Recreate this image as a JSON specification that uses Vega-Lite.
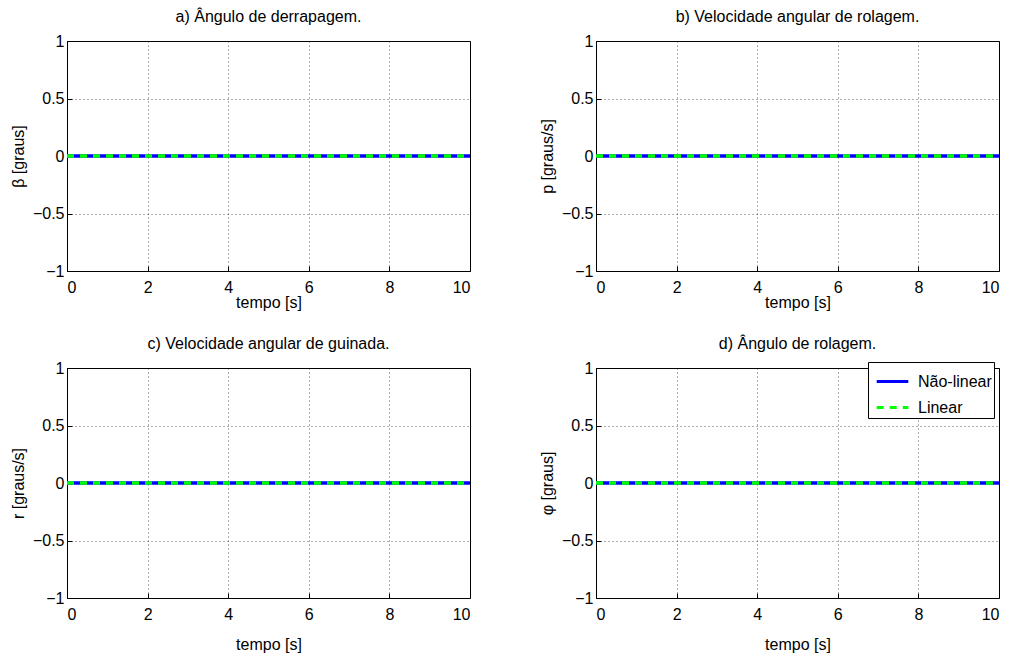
{
  "$schema": "https://vega.github.io/schema/vega-lite/v6.json",
  "background": "white",
  "padding": {"left": 9, "top": 8, "right": 5, "bottom": 5},
  "datasets": {
    "sim": [
      {"series": "Não-linear", "t": 0, "value": 0},
      {"series": "Não-linear", "t": 1, "value": 0},
      {"series": "Não-linear", "t": 2, "value": 0},
      {"series": "Não-linear", "t": 3, "value": 0},
      {"series": "Não-linear", "t": 4, "value": 0},
      {"series": "Não-linear", "t": 5, "value": 0},
      {"series": "Não-linear", "t": 6, "value": 0},
      {"series": "Não-linear", "t": 7, "value": 0},
      {"series": "Não-linear", "t": 8, "value": 0},
      {"series": "Não-linear", "t": 9, "value": 0},
      {"series": "Não-linear", "t": 10, "value": 0},
      {"series": "Linear", "t": 0, "value": 0},
      {"series": "Linear", "t": 1, "value": 0},
      {"series": "Linear", "t": 2, "value": 0},
      {"series": "Linear", "t": 3, "value": 0},
      {"series": "Linear", "t": 4, "value": 0},
      {"series": "Linear", "t": 5, "value": 0},
      {"series": "Linear", "t": 6, "value": 0},
      {"series": "Linear", "t": 7, "value": 0},
      {"series": "Linear", "t": 8, "value": 0},
      {"series": "Linear", "t": 9, "value": 0},
      {"series": "Linear", "t": 10, "value": 0}
    ]
  },
  "config": {
    "font": "Liberation Sans",
    "view": {"stroke": "black", "strokeWidth": 1},
    "title": {"fontSize": 16, "fontWeight": "normal", "color": "black", "font": "Liberation Sans", "offset": 8},
    "axis": {
      "domain": false,
      "labelFont": "Liberation Sans",
      "labelFontSize": 16,
      "labelColor": "black",
      "titleFont": "Liberation Sans",
      "titleFontSize": 16,
      "titleFontWeight": "normal",
      "titleColor": "black",
      "tickColor": "black",
      "tickSize": -5,
      "grid": true,
      "gridColor": "#000000",
      "gridDash": [1, 3],
      "gridOpacity": 0.8,
      "gridWidth": 0.8
    },
    "axisX": {"labelPadding": 13},
    "axisY": {"labelPadding": 8},
    "legend": {"title": null}
  },
  "resolve": {"scale": {"color": "independent", "strokeDash": "independent"}, "legend": {"color": "independent", "strokeDash": "independent"}},
  "vconcat": [
    {
      "resolve": {"scale": {"color": "independent", "strokeDash": "independent"}, "legend": {"color": "independent", "strokeDash": "independent"}},
      "hconcat": [
        {
          "title": "a) Ângulo de derrapagem.",
          "width": 403, "height": 230,
          "data": {"name": "sim"},
          "mark": {"type": "line", "strokeWidth": 3.5},
          "encoding": {
            "x": {"field": "t", "type": "quantitative", "scale": {"domain": [0, 10], "nice": false}, "axis": {"values": [0, 2, 4, 6, 8, 10], "title": "tempo [s]", "titlePadding": -1}},
            "y": {"field": "value", "type": "quantitative", "scale": {"domain": [-1, 1], "nice": false}, "axis": {"values": [-1, -0.5, 0, 0.5, 1], "format": "~g", "title": "β [graus]", "titlePadding": 6}},
            "color": {"field": "series", "type": "nominal", "scale": {"domain": ["Não-linear", "Linear"], "range": ["#0000ff", "#00ff00"]}, "legend": null},
            "strokeDash": {"field": "series", "type": "nominal", "scale": {"domain": ["Não-linear", "Linear"], "range": [[1, 0], [7, 6]]}, "legend": null}
          }
        },
        {
          "title": "b) Velocidade angular de rolagem.",
          "width": 403, "height": 230,
          "data": {"name": "sim"},
          "mark": {"type": "line", "strokeWidth": 3.5},
          "encoding": {
            "x": {"field": "t", "type": "quantitative", "scale": {"domain": [0, 10], "nice": false}, "axis": {"values": [0, 2, 4, 6, 8, 10], "title": "tempo [s]", "titlePadding": -1}},
            "y": {"field": "value", "type": "quantitative", "scale": {"domain": [-1, 1], "nice": false}, "axis": {"values": [-1, -0.5, 0, 0.5, 1], "format": "~g", "title": "p [graus/s]", "titlePadding": 6}},
            "color": {"field": "series", "type": "nominal", "scale": {"domain": ["Não-linear", "Linear"], "range": ["#0000ff", "#00ff00"]}, "legend": null},
            "strokeDash": {"field": "series", "type": "nominal", "scale": {"domain": ["Não-linear", "Linear"], "range": [[1, 0], [7, 6]]}, "legend": null}
          }
        }
      ],
      "spacing": 60
    },
    {
      "resolve": {"scale": {"color": "independent", "strokeDash": "independent"}, "legend": {"color": "independent", "strokeDash": "independent"}},
      "hconcat": [
        {
          "title": "c) Velocidade angular de guinada.",
          "width": 403, "height": 230,
          "data": {"name": "sim"},
          "mark": {"type": "line", "strokeWidth": 3.5},
          "encoding": {
            "x": {"field": "t", "type": "quantitative", "scale": {"domain": [0, 10], "nice": false}, "axis": {"values": [0, 2, 4, 6, 8, 10], "title": "tempo [s]", "titlePadding": 14}},
            "y": {"field": "value", "type": "quantitative", "scale": {"domain": [-1, 1], "nice": false}, "axis": {"values": [-1, -0.5, 0, 0.5, 1], "format": "~g", "title": "r [graus/s]", "titlePadding": 6}},
            "color": {"field": "series", "type": "nominal", "scale": {"domain": ["Não-linear", "Linear"], "range": ["#0000ff", "#00ff00"]}, "legend": null},
            "strokeDash": {"field": "series", "type": "nominal", "scale": {"domain": ["Não-linear", "Linear"], "range": [[1, 0], [7, 6]]}, "legend": null}
          }
        },
        {
          "title": "d) Ângulo de rolagem.",
          "width": 403, "height": 230,
          "data": {"name": "sim"},
          "mark": {"type": "line", "strokeWidth": 3.5},
          "encoding": {
            "x": {"field": "t", "type": "quantitative", "scale": {"domain": [0, 10], "nice": false}, "axis": {"values": [0, 2, 4, 6, 8, 10], "title": "tempo [s]", "titlePadding": 14}},
            "y": {"field": "value", "type": "quantitative", "scale": {"domain": [-1, 1], "nice": false}, "axis": {"values": [-1, -0.5, 0, 0.5, 1], "format": "~g", "title": "φ [graus]", "titlePadding": 6}},
            "color": {"field": "series", "type": "nominal", "scale": {"domain": ["Não-linear", "Linear"], "range": ["#0000ff", "#00ff00"]},
              "legend": {"orient": "none", "legendX": 272, "legendY": -6, "strokeColor": "black", "fillColor": "white", "padding": 2, "cornerRadius": 0, "symbolType": "stroke", "symbolSize": 1000, "symbolOffset": 5, "symbolStrokeWidth": 3, "labelFontSize": 16, "labelFont": "Liberation Sans", "labelColor": "black", "labelOffset": 8, "rowPadding": -7, "title": null}},
            "strokeDash": {"field": "series", "type": "nominal", "scale": {"domain": ["Não-linear", "Linear"], "range": [[1, 0], [7, 6]]},
              "legend": {"orient": "none", "legendX": 272, "legendY": -6, "strokeColor": "black", "fillColor": "white", "padding": 2, "cornerRadius": 0, "symbolType": "stroke", "symbolSize": 1000, "symbolOffset": 5, "symbolStrokeWidth": 3, "labelFontSize": 16, "labelFont": "Liberation Sans", "labelColor": "black", "labelOffset": 8, "rowPadding": -7, "title": null}}
          }
        }
      ],
      "spacing": 60
    }
  ],
  "spacing": 24
}
